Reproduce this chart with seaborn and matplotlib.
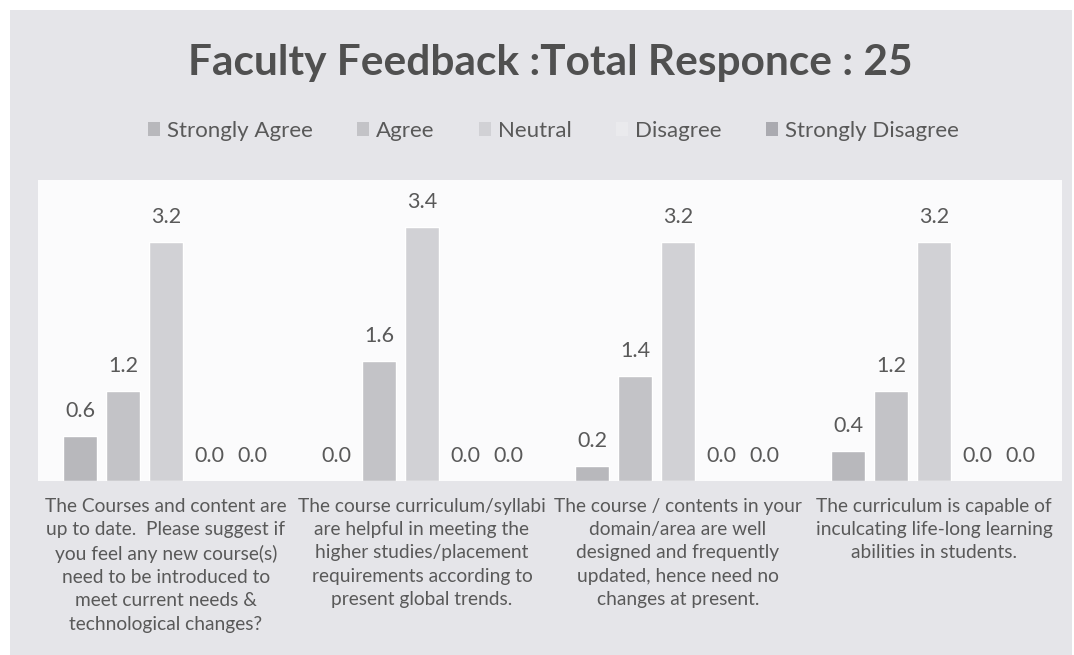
import pandas as pd
import seaborn as sns
import matplotlib.pyplot as plt
from matplotlib.patches import Rectangle

# data
questions = [
    "The Courses and content are\nup to date.  Please suggest if\nyou feel any new course(s)\nneed to be introduced to\nmeet current needs &\ntechnological changes?",
    "The course curriculum/syllabi\nare helpful in meeting the\nhigher studies/placement\nrequirements according to\npresent global trends.",
    "The course / contents in your\ndomain/area are well\ndesigned and frequently\nupdated, hence need no\nchanges at present.",
    "The curriculum is capable of\ninculcating life-long learning\nabilities in students.",
]
responses = ["Strongly Agree", "Agree", "Neutral", "Disagree", "Strongly Disagree"]
strongly_agree = [0.6, 0.0, 0.2, 0.4]
agree = [1.2, 1.6, 1.4, 1.2]
neutral = [3.2, 3.4, 3.2, 3.2]
disagree = [0.0, 0.0, 0.0, 0.0]
strongly_disagree = [0.0, 0.0, 0.0, 0.0]
colors = ["#b7b7bd", "#c2c2c8", "#d0d0d6", "#e9e9ed", "#a9a9b1"]

rows = []
for resp, vals in zip(responses, [strongly_agree, agree, neutral, disagree, strongly_disagree]):
    for q, v in zip(questions, vals):
        rows.append({"question": q, "response": resp, "value": v})
df = pd.DataFrame(rows)

sns.set_theme(style="white")
plt.rcParams["font.family"] = ["Lato", "DejaVu Sans"]
text_col = "#595959"

fig = plt.figure(figsize=(10.74, 6.55), dpi=100)
fig.patch.set_facecolor("white")
fig.patches.append(Rectangle((10 / 1074, 0), 1062 / 1074, 1 - 10 / 655, transform=fig.transFigure,
                             facecolor="#e5e5e9", edgecolor="none", zorder=-10))

ax = fig.add_axes([38 / 1074, 1 - 481 / 655, 1024 / 1074, 301 / 655])
ax.set_zorder(2)
ax.set_facecolor("#fbfbfc")

sns.barplot(data=df, x="question", y="value", hue="response", hue_order=responses,
            palette=colors, width=0.84, gap=0.22, ax=ax, legend=True)

for cont in ax.containers:
    ax.bar_label(cont, fmt="%.1f", padding=11, fontsize=15.5, color=text_col)

ax.set_ylim(0, 4.03)
ax.set_xlim(-0.5, 3.5)
ax.set_yticks([])
ax.set_xlabel("")
ax.set_ylabel("")
ax.tick_params(axis="x", length=0, pad=12, labelsize=13.8, labelcolor=text_col)
for lbl in ax.get_xticklabels():
    lbl.set_linespacing(1.45)
for s in ax.spines.values():
    s.set_visible(False)

handles, labels = ax.get_legend_handles_labels()
for h in handles:
    h.set_edgecolor("none")
ax.get_legend().remove()
fig.legend(handles, labels, loc="center", bbox_to_anchor=(0.515, 1 - 131 / 655), ncol=5,
           frameon=False, fontsize=16, labelcolor=text_col, handlelength=0.55, handleheight=0.55,
           handletextpad=0.3, columnspacing=2.0)

fig.text(0.512, 1 - 63 / 655, "Faculty Feedback :Total Responce : 25", ha="center", va="center",
         fontsize=30.5, fontweight="bold", color="#505050")

fig.savefig("out.png", dpi=100)
